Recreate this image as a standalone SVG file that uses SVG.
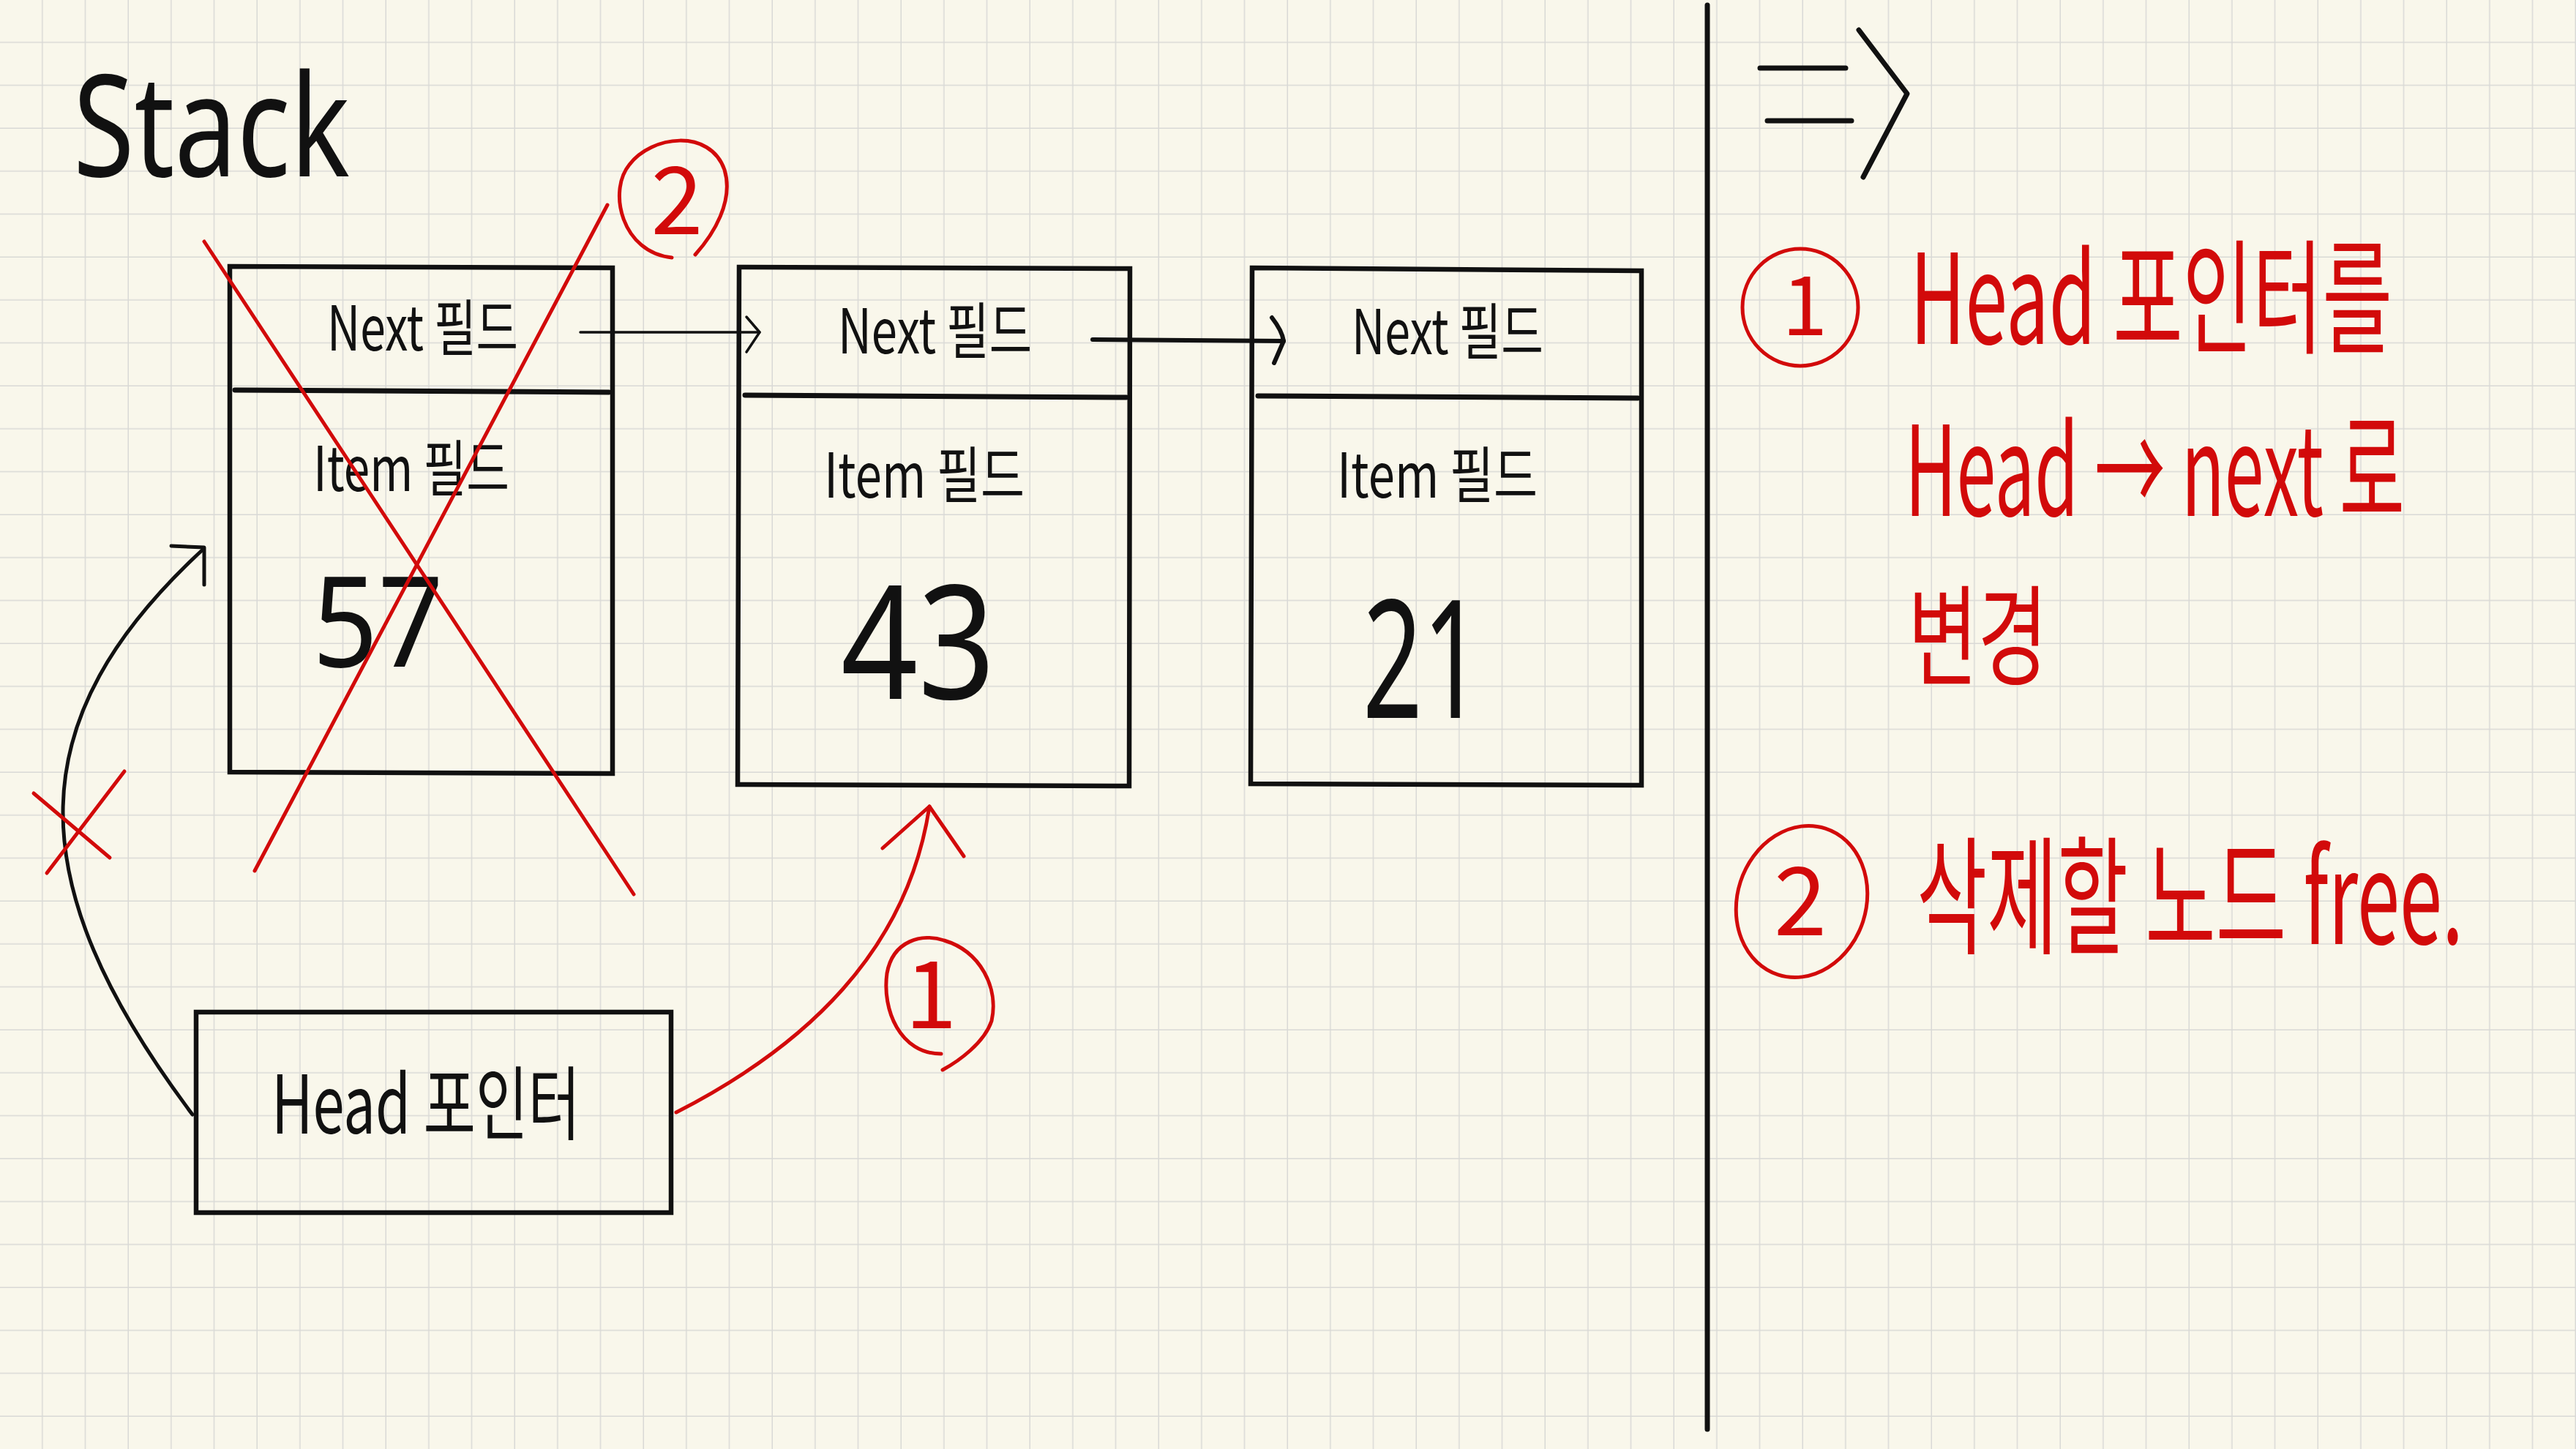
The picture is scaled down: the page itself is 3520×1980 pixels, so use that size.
<svg xmlns="http://www.w3.org/2000/svg" width="3520" height="1980" viewBox="0 0 3520 1980">
<defs>
<pattern id="grid" patternUnits="userSpaceOnUse" x="0" y="0" width="58.667" height="58.667">
<path d="M58.667 0V58.667M0 58.667H58.667" fill="none" stroke="#d9d9d6" stroke-width="3"/>
</pattern>
<style>
.bx{fill:none;stroke:#111;stroke-width:6.5;stroke-linejoin:miter}
.dv{fill:none;stroke:#111;stroke-width:7;stroke-linecap:round}
.lbl{font-family:"Noto Sans CJK KR","Noto Sans",sans-serif;font-size:84px;fill:#111;font-weight:400}
.num{font-family:"Noto Sans","Noto Sans CJK KR",sans-serif;fill:#111;font-weight:400}
.blk{fill:none;stroke:#111;stroke-width:5;stroke-linecap:round;stroke-linejoin:round}
.red{fill:none;stroke:#d20a0a;stroke-width:5;stroke-linecap:round;stroke-linejoin:round}
.rt{font-family:"Noto Sans CJK KR","Noto Sans",sans-serif;fill:#d20a0a;font-weight:400}
</style>
</defs>
<rect width="3520" height="1980" fill="#f9f7eb"/>
<rect width="3520" height="1980" fill="url(#grid)"/>

<text x="100" y="241" font-family="Noto Sans, sans-serif" font-size="193" fill="#111" textLength="378" lengthAdjust="spacingAndGlyphs">Stack</text>

<g id="node-57">
<path class="bx" d="M314 364L837 366L837 1057L314 1055Z"/>
<path class="dv" d="M321 533L832 536"/>
<text class="lbl" x="447" y="479" textLength="261" lengthAdjust="spacingAndGlyphs">Next 필드</text>
<text class="lbl" x="428" y="671" textLength="268" lengthAdjust="spacingAndGlyphs">Item 필드</text>
<text class="num" x="427" y="911" font-size="172" textLength="179" lengthAdjust="spacingAndGlyphs">57</text>
</g>

<g id="node-43">
<path class="bx" d="M1010 365L1544 367L1543 1074L1008 1072Z"/>
<path class="dv" d="M1018 540L1539 543"/>
<text class="lbl" x="1145" y="483" textLength="265" lengthAdjust="spacingAndGlyphs">Next 필드</text>
<text class="lbl" x="1126" y="680" textLength="274" lengthAdjust="spacingAndGlyphs">Item 필드</text>
<text class="num" x="1149" y="955" font-size="216" textLength="211" lengthAdjust="spacingAndGlyphs">43</text>
</g>

<g id="node-21">
<path class="bx" d="M1711 366L2243 370L2243 1073L1709 1071Z"/>
<path class="dv" d="M1719 541L2238 544"/>
<text class="lbl" x="1847" y="484" textLength="262" lengthAdjust="spacingAndGlyphs">Next 필드</text>
<text class="lbl" x="1827" y="680" textLength="274" lengthAdjust="spacingAndGlyphs">Item 필드</text>
<text class="num" x="1862" y="981" font-size="225" textLength="164" lengthAdjust="spacingAndGlyphs">21</text>
</g>

<g id="head-pointer">
<path class="bx" d="M268 1383L917 1383L917 1657L268 1657Z"/>
<text class="lbl" x="371" y="1549" style="font-size:110px" textLength="422" lengthAdjust="spacingAndGlyphs">Head 포인터</text>
</g>

<g id="connectors">
<path class="blk" style="stroke-width:3.5" d="M793 454L1038 454"/>
<path class="blk" style="stroke-width:3.5" d="M1020 433L1038 454L1020 481"/>
<path class="blk" style="stroke-width:6" d="M1493 464L1754 466"/>
<path class="blk" style="stroke-width:6" d="M1738 434Q1752 452 1754 466Q1748 480 1741 496"/>
<path class="blk" d="M263 1523C20 1200 30 980 276 752"/>
<path class="blk" d="M234 746L279 748L279 799"/>
<path class="red" d="M924 1520C1100 1430 1240 1300 1270 1102"/>
<path class="red" d="M1206 1159L1270 1102L1317 1170"/>
</g>

<g id="annotations">
<path class="red" d="M279 330L866 1222"/>
<path class="red" d="M830 280L348 1190"/>
<path class="red" d="M46 1084L150 1172"/>
<path class="red" d="M170 1054L64 1193"/>
<path class="red" d="M918 352C850 345 830 262 860 225C890 185 970 175 990 232C1003 275 975 320 950 348"/>
<text class="rt" x="925" y="320" font-size="128" text-anchor="middle">2</text>
<path class="red" d="M1286 1440C1230 1440 1205 1380 1212 1330C1220 1285 1260 1275 1290 1285C1340 1300 1365 1350 1355 1395C1345 1425 1310 1450 1288 1462"/>
<text class="rt" x="1272" y="1405" font-size="128" text-anchor="middle">1</text>
</g>

<g id="divider">
<path d="M2333 7L2333 1953" fill="none" stroke="#111" stroke-width="7" stroke-linecap="round"/>
<path class="blk" style="stroke-width:7" d="M2405 93L2522 93M2415 165L2530 165M2540 41L2606 128L2546 242"/>
</g>

<g id="notes">
<ellipse class="red" cx="2460" cy="420" rx="79" ry="80"/>
<text class="rt" x="2466" y="458" font-size="112" text-anchor="middle">1</text>
<text class="rt" transform="translate(2610 470) scale(0.6 1)" x="0" y="0" font-size="170" textLength="1098" lengthAdjust="spacingAndGlyphs">Head 포인터를</text>
<text class="rt" transform="translate(2603 705) scale(0.6 1)" x="0" y="0" font-size="170" textLength="1138" lengthAdjust="spacingAndGlyphs">Head → next 로</text>
<text class="rt" x="2607" y="925" font-size="150" textLength="191" lengthAdjust="spacingAndGlyphs">변경</text>
<ellipse class="red" cx="2462" cy="1232" rx="88" ry="105" transform="rotate(18 2462 1232)"/>
<text class="rt" x="2460" y="1278" font-size="130" text-anchor="middle">2</text>
<text class="rt" transform="translate(2619 1290) scale(0.6 1)" x="0" y="0" font-size="175" textLength="1245" lengthAdjust="spacingAndGlyphs">삭제할 노드 free.</text>
</g>
</svg>
